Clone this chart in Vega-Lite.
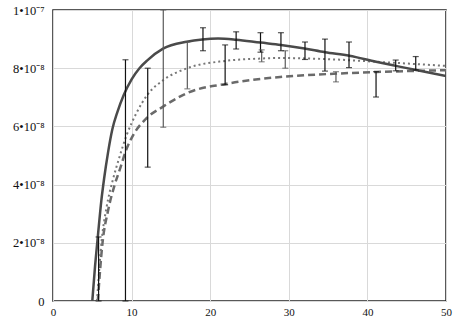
{
  "$schema": "https://vega.github.io/schema/vega-lite/v6.json",
  "width": 393,
  "height": 291,
  "autosize": {"type": "none"},
  "padding": {"left": 53, "top": 10, "right": 10, "bottom": 18},
  "background": "white",
  "config": {
    "view": {"stroke": "#222", "strokeWidth": 1.5},
    "font": "Liberation Serif",
    "axis": {
      "labelFont": "Liberation Serif",
      "labelFontSize": 11,
      "labelColor": "#111",
      "grid": true,
      "gridColor": "#d9d9d9",
      "gridWidth": 1,
      "ticks": false,
      "domain": false,
      "title": null
    }
  },
  "datasets": {
    "curves": [
      {"curve": "solid", "x": 5.0, "y": 0},
      {"curve": "solid", "x": 5.35, "y": 1.2e-8},
      {"curve": "solid", "x": 5.7, "y": 2.2e-8},
      {"curve": "solid", "x": 6.15, "y": 3.45e-8},
      {"curve": "solid", "x": 6.5, "y": 4.2e-8},
      {"curve": "solid", "x": 7.0, "y": 5.1e-8},
      {"curve": "solid", "x": 7.55, "y": 5.9e-8},
      {"curve": "solid", "x": 8.2, "y": 6.5e-8},
      {"curve": "solid", "x": 9.0, "y": 7.08e-8},
      {"curve": "solid", "x": 10.0, "y": 7.62e-8},
      {"curve": "solid", "x": 11.0, "y": 8.0e-8},
      {"curve": "solid", "x": 12.0, "y": 8.27e-8},
      {"curve": "solid", "x": 14.0, "y": 8.67e-8},
      {"curve": "solid", "x": 17.0, "y": 8.91e-8},
      {"curve": "solid", "x": 19.0, "y": 8.99e-8},
      {"curve": "solid", "x": 21.0, "y": 9.02e-8},
      {"curve": "solid", "x": 23.3, "y": 8.98e-8},
      {"curve": "solid", "x": 26.4, "y": 8.88e-8},
      {"curve": "solid", "x": 29.0, "y": 8.8e-8},
      {"curve": "solid", "x": 32.0, "y": 8.68e-8},
      {"curve": "solid", "x": 34.6, "y": 8.55e-8},
      {"curve": "solid", "x": 37.7, "y": 8.43e-8},
      {"curve": "solid", "x": 41.1, "y": 8.22e-8},
      {"curve": "solid", "x": 43.6, "y": 8.08e-8},
      {"curve": "solid", "x": 46.2, "y": 7.94e-8},
      {"curve": "solid", "x": 50.0, "y": 7.73e-8},
      {"curve": "dotted", "x": 5.6, "y": 0},
      {"curve": "dotted", "x": 6.2, "y": 2.1e-8},
      {"curve": "dotted", "x": 6.8, "y": 3.2e-8},
      {"curve": "dotted", "x": 7.6, "y": 4.15e-8},
      {"curve": "dotted", "x": 8.4, "y": 4.9e-8},
      {"curve": "dotted", "x": 9.37, "y": 5.7e-8},
      {"curve": "dotted", "x": 10.6, "y": 6.45e-8},
      {"curve": "dotted", "x": 12.05, "y": 7.1e-8},
      {"curve": "dotted", "x": 14.03, "y": 7.59e-8},
      {"curve": "dotted", "x": 17.09, "y": 8.0e-8},
      {"curve": "dotted", "x": 21.9, "y": 8.25e-8},
      {"curve": "dotted", "x": 26.3, "y": 8.33e-8},
      {"curve": "dotted", "x": 28.9, "y": 8.35e-8},
      {"curve": "dotted", "x": 35.0, "y": 8.31e-8},
      {"curve": "dotted", "x": 41.2, "y": 8.22e-8},
      {"curve": "dotted", "x": 50.0, "y": 8.08e-8},
      {"curve": "dashed", "x": 5.7, "y": 0},
      {"curve": "dashed", "x": 6.3, "y": 2.0e-8},
      {"curve": "dashed", "x": 7.0, "y": 3.1e-8},
      {"curve": "dashed", "x": 7.8, "y": 3.95e-8},
      {"curve": "dashed", "x": 8.6, "y": 4.6e-8},
      {"curve": "dashed", "x": 9.25, "y": 5.15e-8},
      {"curve": "dashed", "x": 10.2, "y": 5.7e-8},
      {"curve": "dashed", "x": 11.9, "y": 6.28e-8},
      {"curve": "dashed", "x": 14.0, "y": 6.68e-8},
      {"curve": "dashed", "x": 16.2, "y": 7.03e-8},
      {"curve": "dashed", "x": 17.1, "y": 7.15e-8},
      {"curve": "dashed", "x": 22.0, "y": 7.46e-8},
      {"curve": "dashed", "x": 28.9, "y": 7.7e-8},
      {"curve": "dashed", "x": 35.0, "y": 7.8e-8},
      {"curve": "dashed", "x": 41.2, "y": 7.87e-8},
      {"curve": "dashed", "x": 50.0, "y": 7.93e-8}
    ],
    "bars": [
      {"set": "A", "x": 5.8, "lo": 0, "hi": 2.2e-8},
      {"set": "A", "x": 9.22, "lo": 0, "hi": 8.29e-8},
      {"set": "A", "x": 12.05, "lo": 4.6e-8, "hi": 8.0e-8},
      {"set": "B", "x": 14.03, "lo": 5.97e-8, "hi": 1.0e-7},
      {"set": "B", "x": 17.09, "lo": 7.29e-8, "hi": 8.9e-8},
      {"set": "A", "x": 19.08, "lo": 8.6e-8, "hi": 9.39e-8},
      {"set": "A", "x": 21.9, "lo": 7.43e-8, "hi": 8.8e-8},
      {"set": "A", "x": 23.3, "lo": 8.66e-8, "hi": 9.25e-8},
      {"set": "A", "x": 26.4, "lo": 8.55e-8, "hi": 9.22e-8},
      {"set": "B", "x": 26.55, "lo": 8.22e-8, "hi": 8.63e-8},
      {"set": "A", "x": 29.0, "lo": 8.6e-8, "hi": 9.22e-8},
      {"set": "B", "x": 29.55, "lo": 8.0e-8, "hi": 8.6e-8},
      {"set": "A", "x": 32.06, "lo": 8.3e-8, "hi": 8.9e-8},
      {"set": "A", "x": 34.6, "lo": 7.9e-8, "hi": 9.0e-8},
      {"set": "B", "x": 36.0, "lo": 7.53e-8, "hi": 7.88e-8},
      {"set": "A", "x": 37.66, "lo": 8.02e-8, "hi": 8.9e-8},
      {"set": "A", "x": 41.1, "lo": 7.01e-8, "hi": 7.88e-8},
      {"set": "A", "x": 43.6, "lo": 7.91e-8, "hi": 8.28e-8},
      {"set": "A", "x": 46.15, "lo": 7.94e-8, "hi": 8.4e-8}
    ]
  },
  "layer": [
    {
      "data": {"name": "curves"},
      "transform": [{"filter": "datum.curve == 'dashed'"}],
      "mark": {"type": "line", "interpolate": "monotone", "color": "#6a6a6a", "strokeWidth": 2.5, "strokeDash": [7, 4], "clip": true},
      "encoding": {
        "x": {"field": "x", "type": "quantitative", "scale": {"domain": [0, 50], "nice": false},
              "axis": {"values": [0, 5, 10, 15, 20, 25, 30, 35, 40, 45, 50], "labelPadding": 5, "labelFlush": false}},
        "y": {"field": "y", "type": "quantitative", "scale": {"domain": [0, 1e-7], "nice": false},
              "axis": {"values": [0, 2e-8, 4e-8, 6e-8, 8e-8, 1e-7], "labelPadding": 9, "labelFontSize": 12.5,
                       "labelExpr": "datum.value == 0 ? '0' : (datum.value > 9.9e-8 ? '1•10⁻⁷' : round(datum.value * 1e8) + '•10⁻⁸')"}}
      }
    },
    {
      "data": {"name": "curves"},
      "transform": [{"filter": "datum.curve == 'dotted'"}],
      "mark": {"type": "line", "interpolate": "monotone", "color": "#777777", "strokeWidth": 2, "strokeDash": [2, 3], "clip": true},
      "encoding": {
        "x": {"field": "x", "type": "quantitative"},
        "y": {"field": "y", "type": "quantitative"}
      }
    },
    {
      "data": {"name": "curves"},
      "transform": [{"filter": "datum.curve == 'solid'"}],
      "mark": {"type": "line", "interpolate": "monotone", "color": "#4a4a4a", "strokeWidth": 2.5, "clip": true},
      "encoding": {
        "x": {"field": "x", "type": "quantitative"},
        "y": {"field": "y", "type": "quantitative"}
      }
    },
    {
      "data": {"name": "bars"},
      "mark": {"type": "rule", "strokeWidth": 1.2},
      "encoding": {
        "x": {"field": "x", "type": "quantitative"},
        "y": {"field": "lo", "type": "quantitative"},
        "y2": {"field": "hi"},
        "color": {"field": "set", "type": "nominal", "scale": {"domain": ["A", "B"], "range": ["#111111", "#5a5a5a"]}, "legend": null}
      }
    },
    {
      "data": {"name": "bars"},
      "mark": {"type": "tick", "orient": "horizontal", "size": 6, "thickness": 1.2},
      "encoding": {
        "x": {"field": "x", "type": "quantitative"},
        "y": {"field": "hi", "type": "quantitative"},
        "color": {"field": "set", "type": "nominal", "legend": null}
      }
    },
    {
      "data": {"name": "bars"},
      "mark": {"type": "tick", "orient": "horizontal", "size": 6, "thickness": 1.2},
      "encoding": {
        "x": {"field": "x", "type": "quantitative"},
        "y": {"field": "lo", "type": "quantitative"},
        "color": {"field": "set", "type": "nominal", "legend": null}
      }
    }
  ]
}
